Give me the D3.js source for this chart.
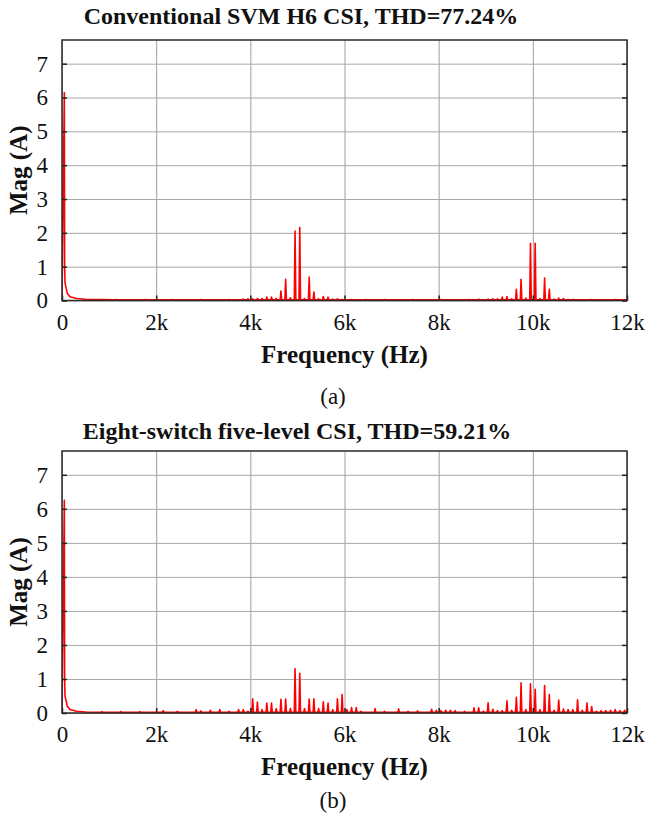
<!DOCTYPE html>
<html>
<head>
<meta charset="utf-8">
<script src="https://cdn.jsdelivr.net/npm/d3@7"></script>
<style>
  html, body { margin: 0; padding: 0; background: #fff; }
  svg { display: block; }
  svg text { font-family: 'Liberation Serif', 'DejaVu Serif', serif !important; fill: #111; }
</style>
</head>
<body>
<svg id="chart" width="647" height="820"></svg>
<script>
// ---------------- DATA ----------------
const xTicks = [0, 2000, 4000, 6000, 8000, 10000, 12000];
const xTickLabels = ["0", "2k", "4k", "6k", "8k", "10k", "12k"];
const yTicks = [0, 1, 2, 3, 4, 5, 6, 7];
const yTickLabels = ["0", "1", "2", "3", "4", "5", "6", "7"];

const titleA = "Conventional SVM H6 CSI, THD=77.24%";
const titleB = "Eight-switch five-level CSI, THD=59.21%";
const xLabel = "Frequency (Hz)";
const yLabel = "Mag (A)";
const captionA = "(a)";
const captionB = "(b)";

// fundamental region (Hz, A)
const tailFreqA = [0, 50, 56, 64, 112, 170, 310, 500];
const tailMagA  = [0, 6.15, 1.0, 0.52, 0.21, 0.11, 0.06, 0.035];
const tailFreqB = [0, 50, 56, 64, 112, 170, 310, 500];
const tailMagB  = [0, 6.25, 1.0, 0.50, 0.20, 0.10, 0.05, 0.03];

// harmonic peaks (a)
const harmFreqA = [1150, 1750, 2350, 2950, 3550, 3850, 3950, 4050, 4150, 4250, 4350, 4450, 4550, 4650, 4750, 4850,
  4950, 5050, 5150, 5250, 5350, 5450, 5550, 5650, 5750, 5850, 5950, 6150, 6450, 6850, 7450, 8050, 8650, 8850,
  9050, 9150, 9250, 9350, 9450, 9550, 9650, 9750, 9850, 9950, 10050, 10150, 10250, 10350, 10450, 10550, 10650,
  10750, 10850, 11250, 11750];
const harmMagA = [0.03, 0.03, 0.03, 0.03, 0.03, 0.04, 0.05, 0.05, 0.06, 0.06, 0.10, 0.10, 0.06, 0.28, 0.63, 0.08,
  2.05, 2.16, 0.06, 0.69, 0.25, 0.05, 0.12, 0.10, 0.04, 0.05, 0.03, 0.03, 0.03, 0.03, 0.03, 0.03, 0.03, 0.04,
  0.04, 0.05, 0.05, 0.10, 0.12, 0.05, 0.33, 0.63, 0.07, 1.69, 1.69, 0.06, 0.66, 0.33, 0.04, 0.07, 0.06,
  0.03, 0.03, 0.03, 0.03];

// harmonic peaks (b)
const harmFreqB = [850, 1250, 1650, 2150, 2450, 2850, 2950, 3150, 3350, 3550, 3750, 3850, 3950,
  4050, 4150, 4250, 4350, 4450, 4550, 4650, 4750, 4850, 4950, 5050, 5150, 5250, 5350, 5450, 5550, 5650,
  5750, 5850, 5950, 6050, 6150, 6250, 6350, 6650, 6850, 7150, 7350, 7550, 7850, 7950, 8050, 8150, 8250,
  8350, 8550, 8750, 8850, 8950, 9050, 9150, 9250, 9350, 9450, 9550, 9650, 9750, 9850, 9950, 10050,
  10150, 10250, 10350, 10450, 10550, 10650, 10750, 10850, 10950, 11050, 11150, 11250, 11350, 11450,
  11550, 11650, 11750, 11850, 11950];
const harmMagB = [0.04, 0.04, 0.04, 0.07, 0.05, 0.10, 0.06, 0.08, 0.10, 0.05, 0.10, 0.10, 0.05,
  0.42, 0.32, 0.10, 0.29, 0.29, 0.13, 0.40, 0.41, 0.13, 1.30, 1.17, 0.13, 0.41, 0.42, 0.13, 0.33, 0.29,
  0.10, 0.42, 0.54, 0.10, 0.16, 0.16, 0.05, 0.13, 0.05, 0.12, 0.05, 0.06, 0.11, 0.08, 0.07, 0.08, 0.08,
  0.07, 0.05, 0.15, 0.15, 0.05, 0.30, 0.11, 0.07, 0.07, 0.36, 0.08, 0.46, 0.89, 0.10, 0.86, 0.70,
  0.10, 0.81, 0.54, 0.08, 0.38, 0.12, 0.10, 0.10, 0.39, 0.08, 0.29, 0.19, 0.05, 0.07,
  0.07, 0.08, 0.10, 0.07, 0.08];

const floorMag = 0.02;   // noise floor between harmonics
const peakHalfWidth = 16; // Hz, drawing half-width of a spectral line

// ---------------- DRAW ----------------
const FONT = "'Liberation Serif', 'DejaVu Serif', serif";
const svg = d3.select("#chart");
const xDomain = [0, 12000];
const yDomain = [0, 7.7];

const panels = [
  { title: titleA, caption: captionA, tailF: tailFreqA, tailM: tailMagA, hf: harmFreqA, hm: harmMagA,
    left: 62, right: 627, top: 40, bottom: 300.5, titleX: 301, titleY: 24, capY: 404 },
  { title: titleB, caption: captionB, tailF: tailFreqB, tailM: tailMagB, hf: harmFreqB, hm: harmMagB,
    left: 62, right: 627, top: 451, bottom: 713, titleX: 297, titleY: 439, capY: 808 }
];

panels.forEach((p, i) => {
  const x = d3.scaleLinear().domain(xDomain).range([p.left, p.right]);
  const y = d3.scaleLinear().domain(yDomain).range([p.bottom, p.top]);
  const g = svg.append("g").attr("font-family", FONT);
  const w = p.right - p.left, h = p.bottom - p.top;

  // grid
  g.append("g").attr("transform", `translate(0,${p.bottom})`)
    .call(d3.axisBottom(x).tickValues(xTicks).tickSize(-h).tickFormat(""))
    .call(s => s.select(".domain").remove())
    .call(s => s.selectAll("line").attr("stroke", "#a0a0a0").attr("stroke-width", 1));
  g.append("g").attr("transform", `translate(${p.left},0)`)
    .call(d3.axisLeft(y).tickValues(yTicks).tickSize(-w).tickFormat(""))
    .call(s => s.select(".domain").remove())
    .call(s => s.selectAll("line").attr("stroke", "#a8a8a8").attr("stroke-width", 1));

  // spectrum path
  const pts = [];
  p.tailF.forEach((f, k) => pts.push([f, p.tailM[k]]));
  p.hf.forEach((f, k) => {
    pts.push([f - peakHalfWidth, floorMag]);
    pts.push([f, p.hm[k]]);
    pts.push([f + peakHalfWidth, floorMag]);
  });
  pts.push([xDomain[1], floorMag]);
  const clipId = "clip" + i;
  svg.append("clipPath").attr("id", clipId).append("rect")
    .attr("x", p.left).attr("y", p.top).attr("width", w).attr("height", h);
  g.append("path").datum(pts)
    .attr("clip-path", `url(#${clipId})`)
    .attr("fill", "none").attr("stroke", "#ff0000").attr("stroke-width", 1.6)
    .attr("stroke-linejoin", "round")
    .attr("d", d3.line().x(d => x(d[0])).y(d => y(d[1])));

  // axes (inward ticks)
  const xa = g.append("g").attr("transform", `translate(0,${p.bottom})`)
    .call(d3.axisBottom(x).tickValues(xTicks).tickSizeInner(-5).tickSizeOuter(0).tickPadding(13)
      .tickFormat((d, k) => xTickLabels[k]));
  xa.attr("font-family", FONT).attr("font-size", 23);
  xa.select(".domain").remove();
  xa.selectAll("line").attr("stroke", "#222").attr("stroke-width", 1.5);
  xa.selectAll("text").attr("fill", "#222");

  const ya = g.append("g").attr("transform", `translate(${p.left},0)`)
    .call(d3.axisLeft(y).tickValues(yTicks).tickSizeInner(-5).tickSizeOuter(0).tickPadding(14)
      .tickFormat((d, k) => yTickLabels[k]));
  ya.attr("font-family", FONT).attr("font-size", 23);
  ya.select(".domain").remove();
  ya.selectAll("line").attr("stroke", "#222").attr("stroke-width", 1.5);
  ya.selectAll("text").attr("fill", "#222");

  const yr = g.append("g").attr("transform", `translate(${p.right},0)`)
    .call(d3.axisRight(y).tickValues(yTicks).tickSizeInner(-5).tickSizeOuter(0).tickFormat(""));
  yr.select(".domain").remove();
  yr.selectAll("line").attr("stroke", "#222").attr("stroke-width", 1.5);

  // frame
  g.append("rect").attr("x", p.left).attr("y", p.top).attr("width", w).attr("height", h)
    .attr("fill", "none").attr("stroke", "#2a2a2a").attr("stroke-width", 1.5);

  // title
  g.append("text").attr("x", p.titleX).attr("y", p.titleY).attr("text-anchor", "middle")
    .attr("font-family", FONT).attr("font-size", 24).attr("font-weight", "bold").text(p.title);
  // x label
  g.append("text").attr("x", (p.left + p.right) / 2).attr("y", p.bottom + 62).attr("text-anchor", "middle")
    .attr("font-family", FONT).attr("font-size", 25).attr("font-weight", "bold").text(xLabel);
  // y label
  g.append("text").attr("transform", `translate(27,${(p.top + p.bottom) / 2}) rotate(-90)`)
    .attr("text-anchor", "middle").attr("font-family", FONT).attr("font-size", 25)
    .attr("font-weight", "bold").text(yLabel);
  // caption
  g.append("text").attr("x", 333).attr("y", p.capY).attr("text-anchor", "middle")
    .attr("font-family", FONT).attr("font-size", 23).text(p.caption);
});
</script>
</body>
</html>
